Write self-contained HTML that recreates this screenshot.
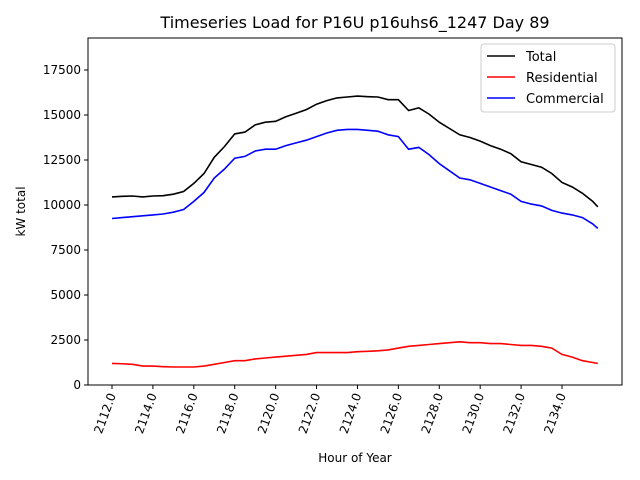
<!DOCTYPE html>
<html><head><meta charset="utf-8"><style>body{margin:0;background:#fff}svg{display:block;font-family:"DejaVu Sans","Liberation Sans",sans-serif}</style></head>
<body>
<svg id="chart" width="640" height="480"></svg>
<script>
const hours=[2112,2112.5,2113,2113.5,2114,2114.5,2115,2115.5,2116,2116.5,2117,2117.5,2118,2118.5,2119,2119.5,2120,2120.5,2121,2121.5,2122,2122.5,2123,2123.5,2124,2124.5,2125,2125.5,2126,2126.5,2127,2127.5,2128,2128.5,2129,2129.5,2130,2130.5,2131,2131.5,2132,2132.5,2133,2133.5,2134,2134.5,2135,2135.5,2135.75];
const commercial=[9250,9300,9350,9400,9450,9500,9600,9750,10200,10700,11500,12000,12600,12700,13000,13100,13100,13300,13450,13600,13800,14000,14150,14200,14200,14150,14100,13900,13800,13100,13200,12800,12300,11900,11500,11400,11200,11000,10800,10600,10200,10050,9950,9700,9550,9450,9300,8950,8700];
const residential=[1200,1180,1150,1050,1050,1020,1000,1000,1000,1050,1150,1250,1350,1350,1450,1500,1550,1600,1650,1700,1800,1800,1800,1800,1850,1870,1900,1950,2050,2150,2200,2250,2300,2350,2400,2350,2350,2300,2300,2250,2200,2200,2150,2050,1700,1550,1350,1250,1200];
const total=commercial.map((c,i)=>c+residential[i]);
const yTicks=[0,2500,5000,7500,10000,12500,15000,17500];
const xTicks=[2112,2114,2116,2118,2120,2122,2124,2126,2128,2130,2132,2134];
const NS='http://www.w3.org/2000/svg',svg=document.getElementById('chart');
const L=88,R=622,T=38,B=385;
const X=h=>112+(h-2112)*20.4545;
const Y=v=>385-v*0.018;
function mk(t,a,p){const e=document.createElementNS(NS,t);for(const k in a)e.setAttribute(k,a[k]);(p||svg).appendChild(e);return e;}
const title=mk('text',{x:355,y:28,'text-anchor':'middle','font-size':16});title.textContent='Timeseries Load for P16U p16uhs6_1247  Day 89';


yTicks.forEach(v=>{const y=Y(v);mk('line',{x1:L-4,x2:L,y1:y,y2:y,stroke:'#000'});const t=mk('text',{x:L-7,y:y+4,'text-anchor':'end','font-size':12});t.textContent=v;

});
xTicks.forEach(h=>{const x=X(h);mk('line',{x1:x,x2:x,y1:B,y2:B+4,stroke:'#000'});const t=mk('text',{x:0,y:0,'text-anchor':'end','font-size':12,transform:`translate(${x+4},${B+10}) rotate(-70)`});t.textContent=h.toFixed(1);

});
const xl=mk('text',{x:355,y:462,'text-anchor':'middle','font-size':12});xl.textContent='Hour of Year';


const yl=mk('text',{x:0,y:0,'text-anchor':'middle','font-size':12,transform:`translate(25,${(T+B)/2}) rotate(-90)`});yl.textContent='kW total';


[['total',total,'#000'],['residential',residential,'#f00'],['commercial',commercial,'#00f']].forEach(([n,d,c])=>{
const p=mk('polyline',{points:d.map((v,i)=>X(hours[i])+','+Y(v)).join(' '),fill:'none',stroke:c,'stroke-width':1.6});

});
const fr=mk('rect',{x:L,y:T,width:R-L,height:B-T,fill:'none',stroke:'#000','stroke-width':1});


const lg=mk('g',{});


mk('rect',{x:481,y:44,width:134,height:68,fill:'#fff',stroke:'#ccc',rx:3},lg);
[['Total','#000'],['Residential','#f00'],['Commercial','#00f']].forEach(([n,c],i)=>{const y=56+i*21;
mk('line',{x1:487,x2:515,y1:y,y2:y,stroke:c,'stroke-width':1.6},lg);
const t=mk('text',{x:526,y:y+5,'font-size':13},lg);t.textContent=n;

});
</script>
</body></html>
